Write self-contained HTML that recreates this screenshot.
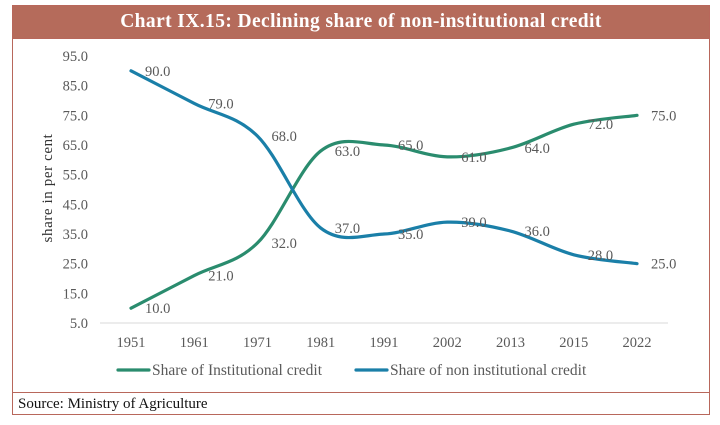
<!DOCTYPE html>
<html><head><meta charset="utf-8"><style>
body{margin:0;width:720px;height:425px;background:#fff;font-family:"Liberation Serif",serif;}
#frame{position:absolute;left:12px;top:5px;width:698px;height:410px;border:1.5px solid #b8675b;box-sizing:border-box;}
#hdr{position:absolute;left:0;top:0;width:100%;height:32px;background:#b56b5b;color:#fff;font-weight:bold;font-size:19.5px;letter-spacing:0.4px;text-align:center;line-height:32px;border-bottom:1.5px solid #b8675b;}
#src{position:absolute;left:0;top:386px;width:100%;box-sizing:border-box;border-top:1.5px solid #b8675b;font-size:15px;padding-left:5px;line-height:22px;color:#111;}
svg{position:absolute;left:0;top:0;}
</style></head><body>
<div id="frame">
<div id="hdr">Chart IX.15: Declining share of non-institutional credit</div>
<div id="src">Source: Ministry of Agriculture</div>
</div>
<svg id="chart" width="720" height="425"></svg>
<script>
const categories=["1951","1961","1971","1981","1991","2002","2013","2015","2022"];
const institutional=[10,21,32,63,65,61,64,72,75];
const nonInstitutional=[90,79,68,37,35,39,36,28,25];
const yTicks=[5,15,25,35,45,55,65,75,85,95];
const svg=document.getElementById('chart');
const NS='http://www.w3.org/2000/svg';
const x0=131,dx=63.25,yBase=323,yTop=56,yMin=5,yMax=95;
const F='Liberation Serif, serif';
function xs(i){return x0+i*dx;}
function ys(v){return yBase-(v-yMin)*(yBase-yTop)/(yMax-yMin);}
function mk(t,a){const e=document.createElementNS(NS,t);for(const k in a)e.setAttribute(k,a[k]);svg.appendChild(e);return e;}
let g=mk('line',{x1:100,x2:668,y1:yBase,y2:yBase,stroke:'#d9d9d9','stroke-width':1});


yTicks.forEach(v=>{const t=mk('text',{x:88,y:ys(v)+5,'text-anchor':'end','font-size':14.5,fill:'#595959','font-family':F});t.textContent=v.toFixed(1);

});
categories.forEach((c,i)=>{const t=mk('text',{x:xs(i),y:347,'text-anchor':'middle','font-size':14.5,fill:'#595959','font-family':F});t.textContent=c;

});
let yt=mk('text',{x:0,y:0,transform:'translate(52,188) rotate(-90)','text-anchor':'middle','font-size':15,'letter-spacing':0.6,fill:'#333','font-family':F});yt.textContent='share in per cent';


function path(vals){const p=vals.map((v,i)=>[xs(i),ys(v)]);let d='M'+p[0][0]+' '+p[0][1];const k=1/6;
for(let i=0;i<p.length-1;i++){const a=p[Math.max(i-1,0)],b=p[i],c=p[i+1],e=p[Math.min(i+2,p.length-1)];
d+=' C'+(b[0]+(c[0]-a[0])*k)+' '+(b[1]+(c[1]-a[1])*k)+' '+(c[0]-(e[0]-b[0])*k)+' '+(c[1]-(e[1]-b[1])*k)+' '+c[0]+' '+c[1];}return d;}
function series(vals,color,name){const pe=mk('path',{d:path(vals),fill:'none',stroke:color,'stroke-width':3.2,'stroke-linecap':'round'});


vals.forEach((v,i)=>{const t=mk('text',{x:xs(i)+14,y:ys(v)+5,'font-size':14.5,fill:'#595959','font-family':F});t.textContent=v.toFixed(1);

});}
series(institutional,'#2a8c6e','institutional');
series(nonInstitutional,'#1a7fa8','non-institutional');
function legend(x,color,label,name){const l=mk('line',{x1:x,x2:x+31,y1:370,y2:370,stroke:color,'stroke-width':3.2,'stroke-linecap':'round'});


const t=mk('text',{x:x+34,y:375,'font-size':15.5,fill:'#595959','font-family':F});t.textContent=label;

}
legend(118,'#2a8c6e','Share of Institutional credit','institutional');
legend(356,'#1a7fa8','Share of non institutional credit','non-institutional');
</script>
</body></html>
